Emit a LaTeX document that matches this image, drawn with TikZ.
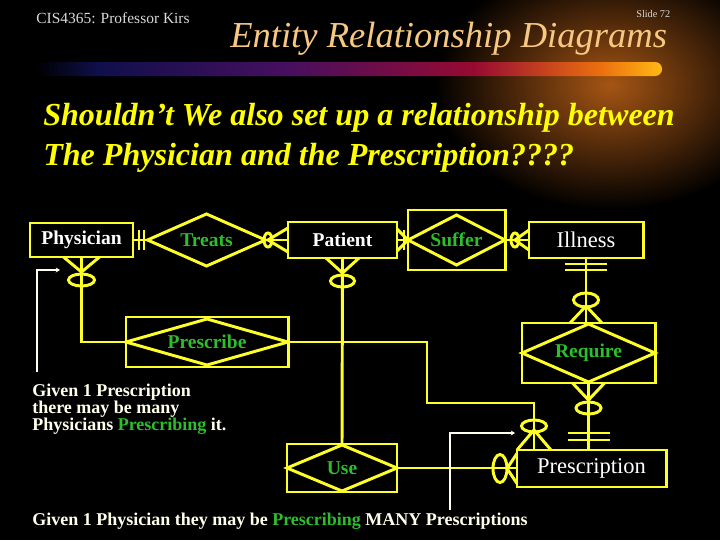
\documentclass[tikz,border=0pt]{standalone}
\usepackage{fontspec}
\setmainfont{Liberation Serif}
\usetikzlibrary{calc,arrows.meta}

\definecolor{erline}{RGB}{255,255,40}
\definecolor{relgreen}{RGB}{45,190,45}
\definecolor{titletan}{RGB}{247,200,130}
\definecolor{subyellow}{RGB}{255,255,0}
\definecolor{notewhite}{RGB}{255,255,235}
\definecolor{barnavy}{RGB}{15,15,75}
\definecolor{barpurple}{RGB}{70,15,95}
\definecolor{barred}{RGB}{150,10,50}
\definecolor{barorange}{RGB}{235,110,15}
\definecolor{baryellow}{RGB}{255,185,20}
\definecolor{glowbrown}{RGB}{165,85,20}

\pgfdeclarehorizontalshading{barshade}{100bp}{color(0bp)=(black); color(25bp)=(black); color(30bp)=(barnavy); color(45bp)=(barpurple); color(60bp)=(barred); color(70bp)=(barorange); color(75bp)=(baryellow); color(100bp)=(baryellow)}

\begin{document}
\begin{tikzpicture}[x=0.025cm,y=-0.025cm,
    ln/.style={draw=erline,line width=2.1pt},
    entity/.style={rectangle,draw=erline,line width=2.1pt,fill=black,inner sep=0pt,outer sep=0pt,
      text=white,font=\fontsize{13.9}{16}\selectfont\bfseries},
    rel/.style={rectangle,inner sep=0pt,outer sep=0pt,text=relgreen,font=\fontsize{13.9}{16}\selectfont\bfseries},
    assoc/.style={rel,draw=erline,line width=2.1pt},
    note/.style={draw=notewhite,line width=1.4pt,-{Stealth[length=3pt,width=3.5pt]}},
    notetext/.style={text=notewhite,font=\fontsize{12.8}{12.1}\selectfont\bfseries,inner sep=0pt,align=left}]
  \fill[black] (0,0) rectangle (720,540);
  \useasboundingbox (0,0) rectangle (720,540);

  % slide header
  \shade[inner color=glowbrown,outer color=black] (610,85) ellipse (175 and 125);
  \shade[shading=barshade,rounded corners=0.17cm] (35,62) rectangle (662,76);
  \node[anchor=base west,inner sep=0pt,text=white!85!black,font=\fontsize{11}{12}\selectfont] (course) at (36,23) {CIS4365: Professor Kirs};
  \node[anchor=base west,inner sep=0pt,text=white!85!black,font=\fontsize{7.3}{8}\selectfont] (slide) at (636,17) {Slide 72};
  \node[anchor=base west,inner sep=0pt,text=titletan,font=\fontsize{26}{30}\selectfont\itshape] (title) at (230,47) {Entity Relationship Diagrams};
  \node[anchor=base west,inner sep=0pt,text=subyellow,font=\fontsize{22.8}{26}\selectfont\bfseries\itshape] (sub1) at (43,125) {Shouldn’t We also set up a relationship between};
  \node[anchor=base west,inner sep=0pt,text=subyellow,font=\fontsize{22.8}{26}\selectfont\bfseries\itshape] (sub2) at (43,165) {The Physician and the Prescription????};

  % entities and relationships
  \node[entity,minimum width=2.575cm,minimum height=0.85cm] (phys) at (81.5,240) {Physician};
  \node[rel,minimum width=2.95cm,minimum height=1.3cm] (treats) at (206.5,240) {Treats};
  \node[entity,minimum width=2.725cm,minimum height=0.9cm] (pat) at (342.5,240) {Patient};
  \node[assoc,minimum width=2.425cm,minimum height=1.5cm] (suffer) at (456.5,240) {Suffer};
  \node[entity,minimum width=2.85cm,minimum height=0.9cm,font=\fontsize{16}{18}\selectfont] (ill) at (586,240) {Illness};
  \node[assoc,minimum width=3.325cm,minimum height=1.5cm] (require) at (588.5,353) {Require};
  \node[assoc,minimum width=4.05cm,minimum height=1.25cm] (prescribe) at (207,342) {Prescribe};
  \node[assoc,minimum width=2.75cm,minimum height=1.2cm] (use) at (342,468) {Use};
  \node[entity,minimum width=3.725cm,minimum height=0.925cm,font=\fontsize{16}{18}\selectfont] (presc) at (591.5,468.5) {Prescription};

  \foreach \nm/\dy in {treats/0,suffer/5,require/1,prescribe/2,use/1}
    \draw[ln] (\nm.west) -- ($(\nm.north)+(0,\dy)$) -- (\nm.east) -- ($(\nm.south)-(0,\dy)$) -- cycle;

  % Physician -- Treats
  \draw[ln] (phys.east) -- (treats.west);
  \draw[ln] ($(phys.east)+(6,-10)$) -- ++(0,20);
  \draw[ln] ($(phys.east)+(11,-10)$) -- ++(0,20);
  % Treats -- Patient
  \draw[ln] (treats.east) -- (pat.west);
  \draw[ln] ($(pat.west)+(0,-12)$) -- ($(pat.west)+(-20,0)$) -- ($(pat.west)+(0,12)$);
  \draw[ln] ($(pat.west)+(-20,0)$) ellipse (4 and 7);
  % Patient -- Suffer
  \draw[ln] (pat.east) -- (suffer.west);
  \draw[ln] ($(pat.east)+(0,-11)$) -- (suffer.west) -- ($(pat.east)+(0,11)$);
  \draw[ln] ($(pat.east)+(7,-10)$) -- ++(0,20);
  % Suffer -- Illness
  \draw[ln] (suffer.east) -- (ill.west);
  \draw[ln] ($(ill.west)+(0,-10)$) -- ($(ill.west)+(-14,0)$) -- ($(ill.west)+(0,10)$);
  \draw[ln] ($(ill.west)+(-14,0)$) ellipse (4 and 7);
  % Illness -- Require
  \draw[ln] (ill.south) -- (ill.south |- require.north);
  \draw[ln] ($(ill.south)+(-21,6)$) -- ++(42,0);
  \draw[ln] ($(ill.south)+(-21,12)$) -- ++(42,0);
  \draw[ln] ($(ill.south |- require.north)+(-16,0)$) -- ($(ill.south |- require.north)+(0,-17)$) -- ($(ill.south |- require.north)+(16,0)$);
  \draw[ln] ($(ill.south |- require.north)+(0,-23)$) ellipse (12.5 and 7);
  % Require -- Prescription
  \draw[ln] (require.south) -- (require.south |- presc.north);
  \draw[ln] ($(require.south)+(-16,0)$) -- ($(require.south)+(0,17)$) -- ($(require.south)+(16,0)$);
  \draw[ln] ($(require.south)+(0,25)$) ellipse (12.5 and 6);
  \draw[ln] ($(require.south |- presc.north)+(-21,-17)$) -- ++(42,0);
  \draw[ln] ($(require.south |- presc.north)+(-21,-10)$) -- ++(42,0);
  % Physician -- Prescribe
  \draw[ln] (phys.south) |- (prescribe.west);
  \draw[ln] ($(phys.south)+(-18,0)$) -- ($(phys.south)+(0,15)$) -- ($(phys.south)+(18,0)$);
  \draw[ln] ($(phys.south)+(0,23)$) ellipse (13 and 6);
  % Patient -- Use
  \draw[ln] (pat.south) -- (use.north);
  \draw[ln] ($(pat.south)+(-16.5,0)$) -- ($(pat.south)+(0,15)$) -- ($(pat.south)+(16.5,0)$);
  \draw[ln] ($(pat.south)+(0,23)$) ellipse (12 and 6);
  % Prescribe -- Prescription
  \coordinate (bend) at (427,403);
  \draw[ln] (prescribe.east) -| (bend) -| ($(presc.north west)+(17,0)$);
  \draw[ln] (presc.north west) -- ($(presc.north west)+(17,-20)$) -- ($(presc.north west)+(34,0)$);
  \draw[ln] ($(presc.north west)+(17,-24)$) ellipse (12.5 and 6);
  % Use -- Prescription
  \draw[ln] (use.east) -- (use.east -| presc.west);
  \draw[ln] ($(presc.west)+(0,-15)$) -- ($(presc.west)+(-10,0)$) -- ($(presc.west)+(0,15)$);
  \draw[ln] ($(presc.west)+(-17,0)$) ellipse (7 and 14);

  % notes
  \coordinate (n1start) at (37,372);
  \coordinate (n1end) at (60,270);
  \draw[note] (n1start) |- (n1end);
  \coordinate (n2start) at (450,510);
  \coordinate (n2end) at (515,433);
  \draw[note] (n2start) |- (n2end);
  \node[notetext,anchor=north west] (note1) at (32,384) {Given 1 Prescription\\there may be many\\Physicians \textcolor{relgreen}{Prescribing} it.};
  \node[notetext,anchor=base west] (note2) at (32,525) {Given 1 Physician they may be \textcolor{relgreen}{Prescribing} MANY Prescriptions};
\end{tikzpicture}
\end{document}
